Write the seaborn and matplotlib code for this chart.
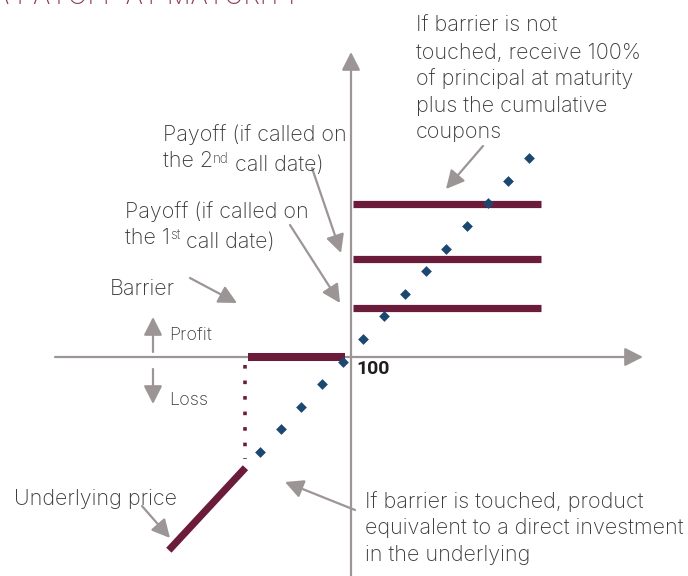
import matplotlib
matplotlib.use("Agg")
import matplotlib.pyplot as plt
import seaborn as sns
import pandas as pd
import numpy as np

# ---- data (schematic payoff diagram) ----
diamond_price = [56, 66, 76, 86, 96, 106, 116, 126, 136, 146, 156, 166, 176, 186]
diamond_payoff = [-42, -32, -22, -12, -2, 8, 18, 28, 38, 48, 58, 68, 78, 88]
coupon_levels = [21.5, 43.5, 67.5]
coupon_start, coupon_end = 101, 192
barrier = 50
barrier_bar_end = 97
dotted_top, dotted_bottom = -3.5, -45
underlying_price = [12, 49]
underlying_payoff = [-85.5, -49]

maroon = "#6b1c3a"
navy = "#1b4771"
grey = "#9c9596"
txt = "#3a3a3a"
title_col = "#8e3b5d"

sns.set_theme(style="white")
plt.rcParams["font.family"] = ["Inter", "DejaVu Sans"]

fig = plt.figure(figsize=(6.88, 5.76), dpi=100)
ax = fig.add_axes([0, 0, 1, 1])
ax.set_axis_off()

# pixel helper for layout (annotations, text)
X0, SX = 351, 2.07
Y0, SY = 357, 2.26
def P(x, y):
    return (100 + (x - X0) / SX, (Y0 - y) / SY)

ax.set_xlim(P(0, 0)[0], P(688, 0)[0])
ax.set_ylim(P(0, 576)[1], P(0, 0)[1])

def arrow(p0, p1, lw=1.6, hl=0.55, hw=0.28, ms=20):
    ax.annotate("", xy=P(*p1), xytext=P(*p0),
                arrowprops=dict(arrowstyle=f"-|>,head_length={hl},head_width={hw}",
                                mutation_scale=ms, color=grey, lw=lw,
                                shrinkA=0, shrinkB=0), zorder=1)

# axes
arrow((55, 357), (643, 357))
arrow((351, 600), (351, 52))

# coupon bars
rows = []
for i, lv in enumerate(coupon_levels):
    rows.append(dict(price=coupon_start, payoff=lv, level=i))
    rows.append(dict(price=coupon_end, payoff=lv, level=i))
cdf = pd.DataFrame(rows)
sns.lineplot(data=cdf, x="price", y="payoff", units="level", estimator=None,
             color=maroon, lw=5.2, solid_capstyle="butt", ax=ax, zorder=3)

# barrier bar
bdf = pd.DataFrame(dict(price=[barrier, barrier_bar_end], payoff=[0, 0]))
sns.lineplot(data=bdf, x="price", y="payoff", estimator=None, color=maroon,
             lw=5.8, solid_capstyle="butt", ax=ax, zorder=3)

# dotted barrier drop
ax.plot([barrier - 1, barrier - 1], [dotted_top, dotted_bottom], color=maroon,
        lw=2.6, linestyle=(0, (1, 3.3)), solid_capstyle="butt",
        dash_capstyle="butt", zorder=3)

# underlying segment
udf = pd.DataFrame(dict(price=underlying_price, payoff=underlying_payoff))
sns.lineplot(data=udf, x="price", y="payoff", estimator=None, color=maroon,
             lw=5.2, solid_capstyle="butt", ax=ax, zorder=3)

# diamonds
sns.scatterplot(x=diamond_price, y=diamond_payoff, marker="D", s=30,
                color=navy, linewidth=0, ax=ax, zorder=4)

# annotation arrows
arrow((483, 146), (446, 189))
arrow((312, 168), (341, 253))
arrow((290, 225), (340, 303))
arrow((190, 278), (237, 303))
arrow((142, 506), (170, 538))
arrow((355, 510), (285, 482))
arrow((153, 352), (153, 317))
arrow((153, 369), (153, 404))

FS = 15.5
W = "light"
DY = 2
def line(x, y, s, fs=FS, **kw):
    return ax.text(*P(x, y + DY), s, fontsize=fs, color=txt, fontweight=W,
                   ha="left", va="center", **kw)

for i, s in enumerate(["If barrier is not", "touched, receive 100%",
                       "of principal at maturity", "plus the cumulative", "coupons"]):
    line(416, 24 + i * 26.5, s)

def sup_line(x, y, base, sup, rest):
    t1 = ax.text(*P(x, y), base, fontsize=FS, color=txt, fontweight=W,
                 ha="left", va="baseline")
    t2 = ax.annotate(sup, xy=(1, 0.42), xycoords=t1, fontsize=FS * 0.62,
                     color=txt, fontweight=W, ha="left", va="baseline")
    ax.annotate(rest, xy=(1, 0), xycoords=(t2, t1), fontsize=FS, color=txt,
                fontweight=W, ha="left", va="baseline")

line(163, 133, "Payoff (if called on")
sup_line(163, 167, "the 2", "nd", " call date)")
line(125, 210, "Payoff (if called on")
sup_line(125, 244, "the 1", "st", " call date)")
line(110, 287, "Barrier")
line(169, 333, "Profit", fs=13)
line(169, 398, "Loss", fs=13)
ax.text(*P(356, 369), "100", fontsize=14, color="#1e1e1e", fontweight="bold",
        ha="left", va="center", family=["Roboto", "DejaVu Sans"])
line(14, 497, "Underlying price")
for i, s in enumerate(["If barrier is touched, product",
                       "equivalent to a direct investment",
                       "in the underlying"]):
    line(365, 500 + i * 26.5, s)

# title, cut off at top edge
ax.text(*P(300, 4), "A PAYOFF AT MATURITY", fontsize=19, color=title_col,
        ha="right", va="baseline", fontweight=W)

fig.savefig("out.png", dpi=100)
